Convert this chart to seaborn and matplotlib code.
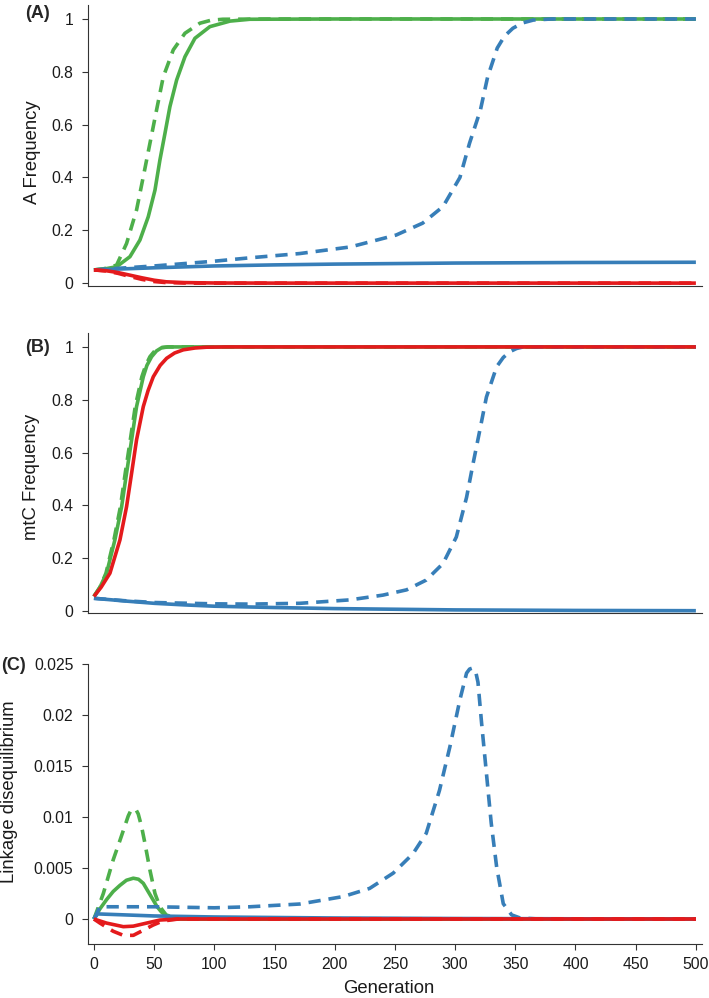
import numpy as np
import pandas as pd
import matplotlib
matplotlib.use("Agg")
import matplotlib.pyplot as plt
import seaborn as sns

# colours
green = "#4daf4a"
blue = "#377eb8"
red = "#e41a1c"

# ---- panel A: A frequency ----
a_green_s_x = [0, 8, 18.8, 29.9, 38.2, 45.1, 50.7, 54.8, 59, 63.1, 68.7, 75.6, 83.9, 96.3, 113, 129.6, 200, 500]
a_green_s_y = [0.05, 0.053, 0.062, 0.10, 0.163, 0.251, 0.352, 0.466, 0.567, 0.668, 0.769, 0.857, 0.927, 0.971, 0.992, 0.999, 1.0, 1.0]
a_green_d_x = [0, 8, 18.8, 27.1, 35.4, 41, 46.5, 52, 57.6, 65.9, 75.6, 88, 97, 107, 150, 500]
a_green_d_y = [0.05, 0.054, 0.068, 0.15, 0.277, 0.403, 0.529, 0.655, 0.781, 0.883, 0.946, 0.984, 0.995, 0.999, 1.0, 1.0]
a_blue_s_x = [0, 25, 50, 100, 150, 200, 300, 400, 500]
a_blue_s_y = [0.05, 0.054, 0.058, 0.065, 0.069, 0.072, 0.076, 0.078, 0.079]
a_blue_d_x = [0, 50, 100, 130, 171, 213, 251, 273, 290, 304, 312, 321, 327, 335, 341, 348, 356, 365, 380, 500]
a_blue_d_y = [0.05, 0.065, 0.083, 0.096, 0.112, 0.137, 0.182, 0.227, 0.29, 0.40, 0.53, 0.655, 0.78, 0.89, 0.935, 0.965, 0.985, 0.996, 1.0, 1.0]
a_red_s_x = [0, 10, 20, 30, 40, 50, 60, 75, 100, 150, 500]
a_red_s_y = [0.05, 0.047, 0.04, 0.03, 0.02, 0.011, 0.005, 0.002, 0.0005, 0.0, 0.0]
a_red_d_x = [0, 10, 20, 30, 40, 50, 60, 80, 500]
a_red_d_y = [0.05, 0.046, 0.037, 0.025, 0.014, 0.006, 0.002, 0.0, 0.0]

# ---- panel B: mtC frequency ----
b_green_s_x = [0, 5, 10.5, 17.4, 23, 27.1, 31.3, 35.4, 41, 44, 47.9, 52, 56.2, 62, 500]
b_green_s_y = [0.055, 0.09, 0.143, 0.269, 0.395, 0.522, 0.648, 0.774, 0.887, 0.93, 0.963, 0.985, 0.997, 1.0, 1.0]
b_green_d_x = [0, 5, 10, 16.6, 22, 26, 30.2, 34.3, 39.8, 43, 46.5, 50.5, 55, 61, 500]
b_green_d_y = [0.055, 0.09, 0.143, 0.269, 0.395, 0.522, 0.648, 0.774, 0.887, 0.93, 0.963, 0.985, 0.997, 1.0, 1.0]
b_blue_s_x = [0, 25, 50, 75, 100, 150, 200, 300, 400, 500]
b_blue_s_y = [0.048, 0.038, 0.029, 0.023, 0.018, 0.013, 0.009, 0.004, 0.002, 0.001]
b_blue_d_x = [0, 25, 50, 100, 130, 171, 212.6, 240, 259.7, 276, 290, 301, 309.5, 315, 320.6, 326, 334.5, 340, 345.5, 351, 356.5, 500]
b_blue_d_y = [0.048, 0.039, 0.032, 0.027, 0.026, 0.029, 0.042, 0.06, 0.08, 0.117, 0.18, 0.28, 0.43, 0.56, 0.686, 0.81, 0.925, 0.96, 0.982, 0.994, 1.0, 1.0]
b_red_s_x = [0, 6, 13.3, 21.6, 27.1, 31.3, 35.4, 41, 45, 49.3, 55, 60.4, 67, 74.2, 84, 93.6, 110, 500]
b_red_s_y = [0.055, 0.09, 0.143, 0.269, 0.395, 0.522, 0.648, 0.774, 0.835, 0.887, 0.93, 0.957, 0.977, 0.989, 0.996, 0.999, 1.0, 1.0]

# ---- panel C: linkage disequilibrium ----
c_green_s_x = [0, 5, 10.5, 16, 21.6, 27, 32.7, 37, 41, 45, 49, 52.5, 56, 62, 80, 500]
c_green_s_y = [0.0, 0.001, 0.0019, 0.0027, 0.0033, 0.0038, 0.004, 0.0039, 0.0035, 0.0027, 0.0019, 0.0012, 0.0007, 0.0001, 0.0, 0.0]
c_green_d_x = [0, 7.8, 16, 21.6, 28.5, 30.5, 32.7, 35, 36.8, 39.5, 42.4, 46.5, 50.7, 54.8, 60, 70, 500]
c_green_d_y = [0.0, 0.0025, 0.0058, 0.0077, 0.0101, 0.0106, 0.0108, 0.0107, 0.0103, 0.0091, 0.0074, 0.0048, 0.0025, 0.0012, 0.0004, 0.0, 0.0]
c_blue_s_x = [0, 3, 50, 100, 200, 300, 400, 500]
c_blue_s_y = [0.0, 0.0005, 0.0003, 0.0002, 0.0001, 0.00005, 0.00002, 0.0]
c_blue_d_x = [0, 5, 50, 100, 129.6, 171, 207, 229, 248.6, 265, 276, 287, 295.7, 304, 309.5, 312, 314.5, 317, 319, 322, 326, 330, 334.5, 340, 347, 354, 370, 500]
c_blue_d_y = [0.0, 0.0012, 0.0012, 0.0011, 0.0012, 0.00147, 0.0022, 0.003, 0.0045, 0.0064, 0.0084, 0.0126, 0.0169, 0.0215, 0.0241, 0.0245, 0.0246, 0.0243, 0.0232, 0.0192, 0.0143, 0.0094, 0.0051, 0.0015, 0.0004, 0.0001, 0.0, 0.0]
c_red_s_x = [0, 10.5, 24.4, 32.7, 43.7, 54.8, 70, 500]
c_red_s_y = [0.0, -0.0004, -0.00075, -0.0007, -0.0004, -0.0001, 0.0, 0.0]
c_red_d_x = [0, 5, 16, 24.4, 32.7, 41, 49, 57, 70, 500]
c_red_d_y = [0.0, -0.0004, -0.0012, -0.0016, -0.0016, -0.0011, -0.0006, -0.0002, 0.0, 0.0]

gen_ticks = list(range(0, 501, 50))
a_ticks = [0, 0.2, 0.4, 0.6, 0.8, 1]
c_ticks = [0, 0.005, 0.01, 0.015, 0.02, 0.025]

sns.set_style("ticks")
plt.rcParams["font.family"] = ["Liberation Sans", "DejaVu Sans"]

fig = plt.figure(figsize=(7.09, 9.98), dpi=100)
ax_a = fig.add_axes([0.124, 0.7134, 0.866, 0.2816])
ax_b = fig.add_axes([0.124, 0.3858, 0.866, 0.2806])
ax_c = fig.add_axes([0.124, 0.0541, 0.866, 0.2806])

lw = 2.6
dash = (0, (3.4, 2.2))


def draw(ax, x, y, color, dashed=False):
    sns.lineplot(x=x, y=y, ax=ax, color=color, linewidth=lw,
                 linestyle=dash if dashed else "-", solid_capstyle="butt")


draw(ax_a, a_green_s_x, a_green_s_y, green)
draw(ax_a, a_green_d_x, a_green_d_y, green, True)
draw(ax_a, a_blue_s_x, a_blue_s_y, blue)
draw(ax_a, a_blue_d_x, a_blue_d_y, blue, True)
draw(ax_a, a_red_s_x, a_red_s_y, red)
draw(ax_a, a_red_d_x, a_red_d_y, red, True)

draw(ax_b, b_green_s_x, b_green_s_y, green)
draw(ax_b, b_green_d_x, b_green_d_y, green, True)
draw(ax_b, b_blue_s_x, b_blue_s_y, blue)
draw(ax_b, b_blue_d_x, b_blue_d_y, blue, True)
draw(ax_b, b_red_s_x, b_red_s_y, red)

draw(ax_c, c_green_s_x, c_green_s_y, green)
draw(ax_c, c_green_d_x, c_green_d_y, green, True)
draw(ax_c, c_blue_s_x, c_blue_s_y, blue)
draw(ax_c, c_blue_d_x, c_blue_d_y, blue, True)
draw(ax_c, c_red_s_x, c_red_s_y, red)
draw(ax_c, c_red_d_x, c_red_d_y, red, True)

ax_a.set_ylim(-0.011, 1.053)
ax_b.set_ylim(-0.0076, 1.053)
ax_c.set_ylim(-0.00245, 0.025)

for ax in (ax_a, ax_b, ax_c):
    ax.set_xlim(-5, 505)
    sns.despine(ax=ax)
    for s in ("left", "bottom"):
        ax.spines[s].set_linewidth(0.8)
        ax.spines[s].set_color("#333333")
    ax.tick_params(axis="y", length=4, width=0.8, color="#333333", pad=6.5,
                   labelsize=11.3, labelcolor="#1a1a1a")

for ax in (ax_a, ax_b):
    ax.set_yticks(a_ticks)
    ax.set_yticklabels([f"{v:g}" for v in a_ticks])
    ax.set_xticks([])

ax_c.set_yticks(c_ticks)
ax_c.set_yticklabels([f"{v:g}" for v in c_ticks])
ax_c.set_xticks(gen_ticks)
ax_c.set_xticklabels([str(v) for v in gen_ticks])
ax_c.tick_params(axis="x", length=4, width=0.8, color="#333333", pad=5,
                 labelsize=11.3, labelcolor="#1a1a1a")

ax_a.set_xlabel("")
ax_b.set_xlabel("")
ax_a.set_ylabel("A Frequency", fontsize=13.3, color="#1a1a1a")
ax_b.set_ylabel("mtC Frequency", fontsize=13.3, color="#1a1a1a")
ax_c.set_ylabel("Linkage disequilibrium", fontsize=13.3, color="#1a1a1a")
ax_c.set_xlabel("Generation", fontsize=13.3, color="#1a1a1a")
ax_a.yaxis.set_label_coords(-0.077, 0.478)
ax_b.yaxis.set_label_coords(-0.078, 0.487)
ax_c.yaxis.set_label_coords(-0.114, 0.543)
ax_c.xaxis.set_label_coords(0.49, -0.128)

fig.text(37.5 / 709, 1 - 13 / 998, "(A)", fontsize=13, fontweight="bold", ha="center", va="center")
fig.text(37.5 / 709, 1 - 347 / 998, "(B)", fontsize=13, fontweight="bold", ha="center", va="center")
fig.text(13 / 709, 1 - 666 / 998, "(C)", fontsize=13, fontweight="bold", ha="center", va="center")

fig.savefig("out.png", dpi=100)
